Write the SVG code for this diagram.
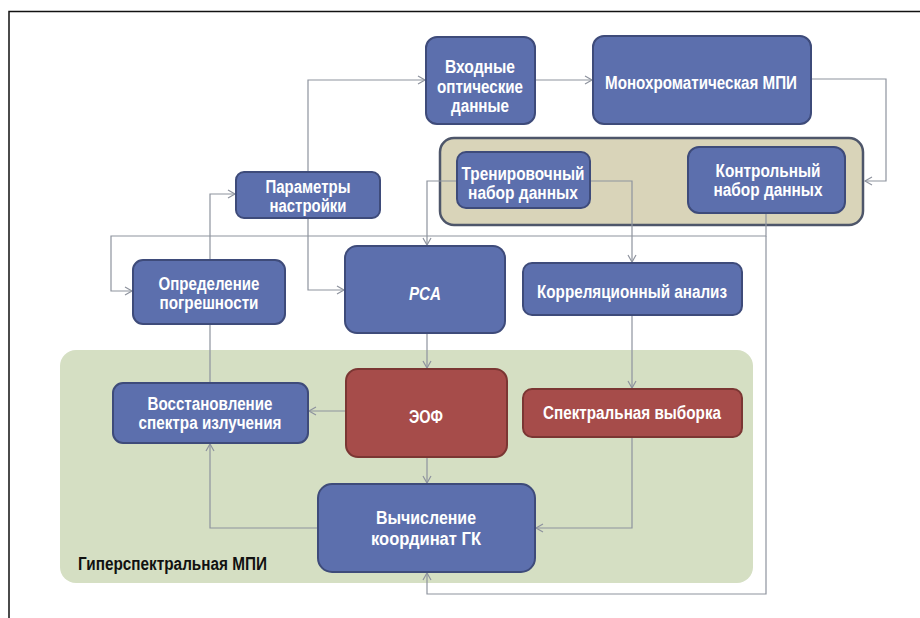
<svg xmlns="http://www.w3.org/2000/svg" width="920" height="618" viewBox="0 0 920 618">
<defs>
<marker id="arr" markerUnits="userSpaceOnUse" markerWidth="10" markerHeight="10" refX="8" refY="5" orient="auto">
<path d="M1,1 L8,5 L1,9" fill="none" stroke="#8e939e" stroke-width="1.2"/>
</marker>
</defs>
<style>
.frame{fill:none;stroke:#111;stroke-width:1.5}
.area{fill:#d5dfc3}
.group{fill:#d9d4b9;stroke:#4e566a;stroke-width:2.5}
.blue{fill:#5c6fad;stroke:#3e4b7a;stroke-width:2}
.red{fill:#a64c4a;stroke:#7b3633;stroke-width:2}
.conn path{fill:none;stroke:#8e939e;stroke-width:1.2}
.t{font-family:"Liberation Sans Narrow","Liberation Sans",Arial,sans-serif;font-weight:bold;font-size:18px;fill:#fff;text-anchor:middle}
.lbl{font-family:"Liberation Sans Narrow","Liberation Sans",Arial,sans-serif;font-weight:bold;font-size:18px;fill:#111}
</style>
<rect width="920" height="618" fill="#fff"/>
<path class="frame" d="M9,618 V11.5 H920"/>
<g id="hyperspectral-area">
<rect class="area" x="60" y="350" width="693" height="233" rx="16"/>
<text class="lbl" x="78" y="570" textLength="189" lengthAdjust="spacingAndGlyphs">Гиперспектральная МПИ</text>
</g>
<g id="datasets-group">
<rect class="group" x="440" y="138" width="423" height="87" rx="14"/>
</g>
<g id="connectors" class="conn">
<path d="M535,80 H592" marker-end="url(#arr)"/>
<path d="M811,79 H886 V181 H865" marker-end="url(#arr)"/>
<path d="M308,172 V80 H425" marker-end="url(#arr)"/>
<path d="M308,218 V290 H344" marker-end="url(#arr)"/>
<path d="M210,383 V194 H235" marker-end="url(#arr)"/>
<path d="M457,181 H427 V245" marker-end="url(#arr)"/>
<path d="M590,181 H632 V262" marker-end="url(#arr)"/>
<path d="M766,213 V236 H111 V291 H132" marker-end="url(#arr)"/>
<path d="M766,236 V594 H427 V573" marker-end="url(#arr)"/>
<path d="M427,333 V368" marker-end="url(#arr)"/>
<path d="M632,315 V388" marker-end="url(#arr)"/>
<path d="M346,411 H309" marker-end="url(#arr)"/>
<path d="M427,457 V483" marker-end="url(#arr)"/>
<path d="M632,437 V528 H536" marker-end="url(#arr)"/>
<path d="M318,528 H210 V444" marker-end="url(#arr)"/>
</g>
<g id="input-data">
<rect class="blue" x="426" y="37" width="109" height="87" rx="11"/>
<text class="t" x="480" y="73" textLength="70" lengthAdjust="spacingAndGlyphs">Входные</text>
<text class="t" x="480" y="93" textLength="86" lengthAdjust="spacingAndGlyphs">оптические</text>
<text class="t" x="480" y="112" textLength="58" lengthAdjust="spacingAndGlyphs">данные</text>
</g>
<g id="mono">
<rect class="blue" x="593" y="36" width="218" height="88" rx="11"/>
<text class="t" x="701" y="89" textLength="192" lengthAdjust="spacingAndGlyphs">Монохроматическая МПИ</text>
</g>
<g id="params">
<rect class="blue" x="236" y="172" width="144" height="46" rx="8"/>
<text class="t" x="308" y="193" textLength="85" lengthAdjust="spacingAndGlyphs">Параметры</text>
<text class="t" x="308" y="212" textLength="77" lengthAdjust="spacingAndGlyphs">настройки</text>
</g>
<g id="training">
<rect class="blue" x="457" y="152" width="133" height="56" rx="9"/>
<text class="t" x="523" y="180" textLength="123" lengthAdjust="spacingAndGlyphs">Тренировочный</text>
<text class="t" x="523" y="199" textLength="110" lengthAdjust="spacingAndGlyphs">набор данных</text>
</g>
<g id="control">
<rect class="blue" x="688" y="147" width="157" height="66" rx="11"/>
<text class="t" x="768" y="177" textLength="105" lengthAdjust="spacingAndGlyphs">Контрольный</text>
<text class="t" x="768" y="196" textLength="109" lengthAdjust="spacingAndGlyphs">набор данных</text>
</g>
<g id="error">
<rect class="blue" x="133" y="260" width="152" height="64" rx="10"/>
<text class="t" x="209" y="290" textLength="101" lengthAdjust="spacingAndGlyphs">Определение</text>
<text class="t" x="209" y="309" textLength="99" lengthAdjust="spacingAndGlyphs">погрешности</text>
</g>
<g id="pca">
<rect class="blue" x="345" y="246" width="160" height="87" rx="12"/>
<text class="t" x="425" y="300" font-style="italic" textLength="32" lengthAdjust="spacingAndGlyphs">PCA</text>
</g>
<g id="correlation">
<rect class="blue" x="523" y="263" width="219" height="52" rx="9"/>
<text class="t" x="632" y="298" textLength="190" lengthAdjust="spacingAndGlyphs">Корреляционный анализ</text>
</g>
<g id="restore">
<rect class="blue" x="113" y="383" width="195" height="60" rx="10"/>
<text class="t" x="210" y="410" textLength="125" lengthAdjust="spacingAndGlyphs">Восстановление</text>
<text class="t" x="210" y="429" textLength="143" lengthAdjust="spacingAndGlyphs">спектра излучения</text>
</g>
<g id="eof">
<rect class="red" x="346" y="369" width="161" height="88" rx="12"/>
<text class="t" x="426" y="423" textLength="34" lengthAdjust="spacingAndGlyphs">ЭОФ</text>
</g>
<g id="spectral">
<rect class="red" x="523" y="389" width="219" height="48" rx="9"/>
<text class="t" x="632" y="419" textLength="178" lengthAdjust="spacingAndGlyphs">Спектральная выборка</text>
</g>
<g id="compute">
<rect class="blue" x="318" y="484" width="217" height="88" rx="14"/>
<text class="t" x="426" y="524" textLength="100" lengthAdjust="spacingAndGlyphs">Вычисление</text>
<text class="t" x="426" y="545" textLength="110" lengthAdjust="spacingAndGlyphs">координат ГК</text>
</g>
</svg>
